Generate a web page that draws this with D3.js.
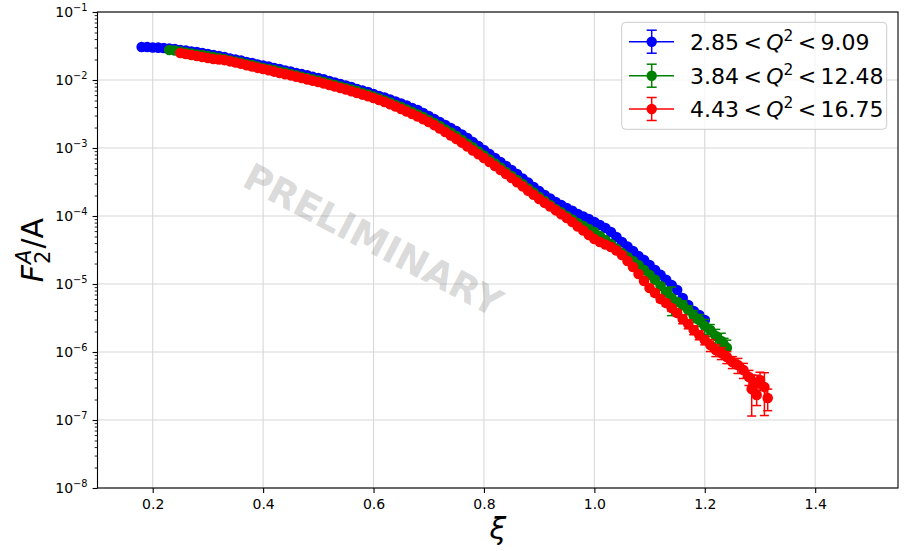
<!DOCTYPE html>
<html>
<head>
<meta charset="utf-8">
<script src="https://cdn.jsdelivr.net/npm/d3@7"></script>
<style>
  body { margin: 0; background: #fff; }
  svg { display: block; font-family: "DejaVu Sans", sans-serif; }
</style>
</head>
<body>
<div id="chart"></div>
<script>
// each point: [xi, F2/A, relative error]
const blueData = [
  [0.18,3.06e-2,.01],[0.19,3.05e-2,.01],[0.20,3.01e-2,.01],[0.21,2.99e-2,.01],[0.22,2.96e-2,.01],
  [0.23,2.91e-2,.01],[0.24,2.86e-2,.01],[0.25,2.76e-2,.01],[0.26,2.72e-2,.01],[0.27,2.62e-2,.01],
  [0.28,2.58e-2,.01],[0.29,2.50e-2,.01],[0.30,2.41e-2,.01],[0.31,2.33e-2,.01],[0.32,2.25e-2,.01],
  [0.33,2.18e-2,.01],[0.34,2.07e-2,.01],[0.35,2.00e-2,.01],[0.36,1.94e-2,.01],[0.37,1.84e-2,.01],
  [0.38,1.78e-2,.01],[0.39,1.69e-2,.01],[0.40,1.63e-2,.01],[0.41,1.58e-2,.01],[0.42,1.50e-2,.01],
  [0.43,1.45e-2,.01],[0.44,1.38e-2,.01],[0.45,1.33e-2,.01],[0.46,1.27e-2,.01],[0.47,1.22e-2,.01],
  [0.48,1.17e-2,.01],[0.49,1.11e-2,.01],[0.50,1.07e-2,.01],[0.51,1.02e-2,.01],[0.52,9.67e-3,.01],
  [0.53,9.19e-3,.01],[0.54,8.73e-3,.01],[0.55,8.30e-3,.01],[0.56,7.89e-3,.01],[0.57,7.37e-3,.01],
  [0.58,7.01e-3,.01],[0.59,6.66e-3,.01],[0.60,6.23e-3,.01],[0.61,5.82e-3,.01],[0.62,5.53e-3,.01],
  [0.63,5.17e-3,.01],[0.64,4.83e-3,.01],[0.65,4.51e-3,.01],[0.66,4.22e-3,.01],[0.67,3.88e-3,.01],
  [0.68,3.62e-3,.01],[0.69,3.27e-3,.01],[0.70,2.96e-3,.01],[0.71,2.67e-3,.01],[0.72,2.41e-3,.01],
  [0.73,2.18e-3,.01],[0.74,1.97e-3,.01],[0.75,1.78e-3,.01],[0.76,1.58e-3,.01],[0.77,1.40e-3,.01],
  [0.78,1.22e-3,.01],[0.79,1.07e-3,.01],[0.80,9.35e-4,.01],[0.81,8.16e-4,.01],[0.82,7.13e-4,.01],
  [0.83,6.23e-4,.01],[0.84,5.44e-4,.01],[0.85,4.75e-4,.01],[0.86,4.15e-4,.01],[0.87,3.56e-4,.01],
  [0.88,3.11e-4,.01],[0.89,2.67e-4,.01],[0.90,2.33e-4,.01],[0.91,2.04e-4,.01],[0.92,1.81e-4,.01],
  [0.93,1.61e-4,.01],[0.94,1.45e-4,.01],[0.95,1.31e-4,.01],[0.96,1.19e-4,.01],[0.97,1.07e-4,.01],
  [0.98,9.83e-5,.02],[0.99,9.03e-5,.02],[1.00,8.16e-5,.02],[1.01,7.37e-5,.02],[1.02,6.66e-5,.02],
  [1.03,5.82e-5,.02],[1.04,4.91e-5,.02],[1.05,4.15e-5,.02],[1.06,3.56e-5,.02],[1.07,3.06e-5,.03],
  [1.08,2.58e-5,.03],[1.09,2.25e-5,.03],[1.10,1.90e-5,.03],[1.11,1.61e-5,.04],[1.12,1.36e-5,.04],
  [1.13,1.15e-5,.04],[1.14,9.67e-6,.05],[1.15,8.16e-6,.05],[1.16,6.23e-6,.06],[1.17,4.91e-6,.06],
  [1.18,4.01e-6,.07],[1.19,3.50e-6,.08],[1.20,2.96e-6,.08]
];

const greenData = [
  [0.23,2.76e-2,.01],[0.24,2.72e-2,.01],[0.25,2.62e-2,.01],[0.26,2.54e-2,.01],[0.27,2.45e-2,.01],
  [0.28,2.37e-2,.01],[0.29,2.33e-2,.01],[0.30,2.25e-2,.01],[0.31,2.18e-2,.01],[0.32,2.11e-2,.01],
  [0.33,2.04e-2,.01],[0.34,1.94e-2,.01],[0.35,1.87e-2,.01],[0.36,1.81e-2,.01],[0.37,1.72e-2,.01],
  [0.38,1.66e-2,.01],[0.39,1.58e-2,.01],[0.40,1.50e-2,.01],[0.41,1.45e-2,.01],[0.42,1.40e-2,.01],
  [0.43,1.33e-2,.01],[0.44,1.29e-2,.01],[0.45,1.22e-2,.01],[0.46,1.17e-2,.01],[0.47,1.11e-2,.01],
  [0.48,1.07e-2,.01],[0.49,1.02e-2,.01],[0.50,9.83e-3,.01],[0.51,9.35e-3,.01],[0.52,8.88e-3,.01],
  [0.53,8.44e-3,.01],[0.54,8.02e-3,.01],[0.55,7.63e-3,.01],[0.56,7.25e-3,.01],[0.57,6.89e-3,.01],
  [0.58,6.44e-3,.01],[0.59,6.12e-3,.01],[0.60,5.72e-3,.01],[0.61,5.35e-3,.01],[0.62,5.00e-3,.01],
  [0.63,4.67e-3,.01],[0.64,4.29e-3,.01],[0.65,4.01e-3,.01],[0.66,3.68e-3,.01],[0.67,3.38e-3,.01],
  [0.68,3.11e-3,.01],[0.69,2.86e-3,.01],[0.70,2.58e-3,.01],[0.71,2.33e-3,.01],[0.72,2.11e-3,.01],
  [0.73,1.87e-3,.01],[0.74,1.69e-3,.01],[0.75,1.50e-3,.01],[0.76,1.31e-3,.01],[0.77,1.15e-3,.01],
  [0.78,1.02e-3,.01],[0.79,8.88e-4,.01],[0.80,7.76e-4,.01],[0.81,6.77e-4,.01],[0.82,5.92e-4,.01],
  [0.83,5.17e-4,.01],[0.84,4.44e-4,.01],[0.85,3.88e-4,.01],[0.86,3.38e-4,.01],[0.87,2.96e-4,.01],
  [0.88,2.54e-4,.01],[0.89,2.22e-4,.01],[0.90,1.90e-4,.01],[0.91,1.66e-4,.01],[0.92,1.45e-4,.01],
  [0.93,1.27e-4,.01],[0.94,1.13e-4,.01],[0.95,1.00e-4,.01],[0.96,8.88e-5,.02],[0.97,7.89e-5,.02],
  [0.98,7.13e-5,.02],[0.99,6.44e-5,.02],[1.00,5.82e-5,.02],[1.01,5.08e-5,.02],[1.02,4.44e-5,.02],
  [1.03,3.88e-5,.02],[1.04,3.33e-5,.02],[1.05,2.86e-5,.02],[1.06,2.50e-5,.04],[1.07,2.18e-5,.04],
  [1.08,1.90e-5,.04],[1.09,1.61e-5,.04],[1.10,1.36e-5,.04],[1.11,1.15e-5,.08],[1.12,9.35e-6,.10],
  [1.13,7.63e-6,.15],[1.14,6.23e-6,.45],[1.15,5.44e-6,.12],[1.16,4.91e-6,.15],[1.17,4.15e-6,.15],
  [1.18,3.38e-6,.20],[1.19,2.96e-6,.20],[1.20,2.41e-6,.25],[1.21,2.11e-6,.20],[1.22,1.72e-6,.25],
  [1.23,1.45e-6,.30],[1.235,1.27e-6,.25],[1.24,1.15e-6,.30]
];

const redData = [
  [0.25,2.50e-2,.01],[0.26,2.41e-2,.01],[0.27,2.33e-2,.01],[0.28,2.25e-2,.01],[0.29,2.18e-2,.01],
  [0.30,2.11e-2,.01],[0.31,2.04e-2,.01],[0.32,2.00e-2,.01],[0.33,1.96e-2,.01],[0.34,1.88e-2,.01],
  [0.35,1.81e-2,.01],[0.36,1.73e-2,.01],[0.37,1.65e-2,.01],[0.38,1.58e-2,.01],[0.39,1.51e-2,.01],
  [0.40,1.45e-2,.01],[0.41,1.39e-2,.01],[0.42,1.33e-2,.01],[0.43,1.27e-2,.01],[0.44,1.22e-2,.01],
  [0.45,1.17e-2,.01],[0.46,1.12e-2,.01],[0.47,1.07e-2,.01],[0.48,1.02e-2,.01],[0.49,9.76e-3,.01],
  [0.50,9.35e-3,.01],[0.51,8.88e-3,.01],[0.52,8.44e-3,.01],[0.53,8.02e-3,.01],[0.54,7.63e-3,.01],
  [0.55,7.25e-3,.01],[0.56,6.84e-3,.01],[0.57,6.46e-3,.01],[0.58,6.10e-3,.01],[0.59,5.77e-3,.01],
  [0.60,5.44e-3,.01],[0.61,5.08e-3,.01],[0.62,4.75e-3,.01],[0.63,4.41e-3,.01],[0.64,4.08e-3,.01],
  [0.65,3.75e-3,.01],[0.66,3.44e-3,.01],[0.67,3.16e-3,.01],[0.68,2.91e-3,.01],[0.69,2.65e-3,.01],
  [0.70,2.41e-3,.01],[0.71,2.17e-3,.01],[0.72,1.94e-3,.01],[0.73,1.72e-3,.01],[0.74,1.53e-3,.01],
  [0.75,1.36e-3,.01],[0.76,1.20e-3,.01],[0.77,1.05e-3,.01],[0.78,9.22e-4,.01],[0.79,8.10e-4,.01],
  [0.80,7.13e-4,.01],[0.81,6.23e-4,.01],[0.82,5.44e-4,.01],[0.83,4.75e-4,.01],[0.84,4.15e-4,.01],
  [0.85,3.62e-4,.01],[0.86,3.14e-4,.01],[0.87,2.73e-4,.01],[0.88,2.36e-4,.01],[0.89,2.05e-4,.01],
  [0.90,1.78e-4,.01],[0.91,1.56e-4,.01],[0.92,1.38e-4,.01],[0.93,1.21e-4,.01],[0.94,1.06e-4,.01],
  [0.95,9.35e-5,.01],[0.96,8.16e-5,.02],[0.97,7.01e-5,.02],[0.98,6.12e-5,.02],[0.99,5.26e-5,.02],
  [1.00,4.59e-5,.02],[1.01,4.15e-5,.02],[1.02,3.81e-5,.02],[1.03,3.50e-5,.02],[1.04,3.11e-5,.02],
  [1.05,2.67e-5,.02],[1.06,2.18e-5,.05],[1.07,1.78e-5,.05],[1.08,1.40e-5,.05],[1.09,1.11e-5,.05],
  [1.10,8.73e-6,.05],[1.11,7.37e-6,.10],[1.12,6.02e-6,.10],[1.13,5.26e-6,.10],[1.14,4.44e-6,.10],
  [1.15,3.75e-6,.10],[1.16,3.06e-6,.15],[1.17,2.58e-6,.15],[1.18,2.11e-6,.15],[1.19,1.78e-6,.15],
  [1.20,1.50e-6,.15],[1.21,1.27e-6,.20],[1.22,1.07e-6,.20],[1.23,9.67e-7,.20],[1.24,8.44e-7,.20],
  [1.25,7.13e-7,.20],[1.26,6.44e-7,.25],[1.27,5.44e-7,.25],[1.28,4.29e-7,.25],[1.285,2.86e-7,.60],
  [1.29,3.50e-7,.30],[1.294,2.33e-7,.30],[1.30,3.88e-7,.30],[1.308,3.06e-7,.62],[1.314,2.11e-7,.35]
];

const seriesColors = ["#0000ff", "#008000", "#ff0000"];
const q2Low = ["2.85", "3.84", "4.43"];
const q2High = ["9.09", "12.48", "16.75"];

const xTicks = [0.2, 0.4, 0.6, 0.8, 1.0, 1.2, 1.4];
const xTickLabels = ["0.2", "0.4", "0.6", "0.8", "1.0", "1.2", "1.4"];
const yTicks = [1e-8, 1e-7, 1e-6, 1e-5, 1e-4, 1e-3, 1e-2, 1e-1];
const yTickExps = ["\u22128", "\u22127", "\u22126", "\u22125", "\u22124", "\u22123", "\u22122", "\u22121"];

const W = 904, H = 551;
const margin = {top: 12, right: 6, bottom: 63, left: 97.5};
const plotBottom = H - margin.bottom;
const plotRight = W - margin.right;

const x = d3.scaleLinear().domain([0.1, 1.55]).range([margin.left, plotRight]);
const y = d3.scaleLog().domain([1e-8, 1e-1]).range([plotBottom, margin.top]);

const svg = d3.select("#chart").append("svg")
    .attr("width", W)
    .attr("height", H);

// grid
const grid = svg.append("g").attr("class", "grid")
    .attr("stroke", "#d8d8d8")
    .attr("stroke-width", 1.1);

grid.selectAll(".gx").data(xTicks).join("line")
    .attr("x1", d => x(d)).attr("x2", d => x(d))
    .attr("y1", margin.top).attr("y2", plotBottom);

grid.selectAll(".gy").data(yTicks).join("line")
    .attr("x1", margin.left).attr("x2", plotRight)
    .attr("y1", d => y(d)).attr("y2", d => y(d));

// watermark
svg.append("text")
    .attr("transform", "translate(373,240) rotate(27.5)")
    .attr("text-anchor", "middle")
    .attr("dominant-baseline", "central")
    .attr("font-size", 37.5)
    .attr("font-weight", "bold")
    .attr("fill", "#808080")
    .attr("fill-opacity", 0.3)
    .text("PRELIMINARY");

// series
const plot = svg.append("g").attr("class", "series");

function drawSeries(data, color) {
    const g = plot.append("g");
    const cap = 4.5;

    g.selectAll(".bar").data(data).join("line")
        .attr("x1", d => x(d[0])).attr("x2", d => x(d[0]))
        .attr("y1", d => y(d[1] * (1 + d[2])))
        .attr("y2", d => y(d[1] * (1 - d[2])))
        .attr("stroke", color).attr("stroke-width", 1.5);

    g.selectAll(".capTop").data(data).join("line")
        .attr("x1", d => x(d[0]) - cap).attr("x2", d => x(d[0]) + cap)
        .attr("y1", d => y(d[1] * (1 + d[2]))).attr("y2", d => y(d[1] * (1 + d[2])))
        .attr("stroke", color).attr("stroke-width", 1.5);

    g.selectAll(".capBot").data(data).join("line")
        .attr("x1", d => x(d[0]) - cap).attr("x2", d => x(d[0]) + cap)
        .attr("y1", d => y(d[1] * (1 - d[2]))).attr("y2", d => y(d[1] * (1 - d[2])))
        .attr("stroke", color).attr("stroke-width", 1.5);

    g.append("path")
        .datum(data)
        .attr("fill", "none")
        .attr("stroke", color)
        .attr("stroke-width", 1.5)
        .attr("d", d3.line().x(d => x(d[0])).y(d => y(d[1])));

    g.selectAll("circle").data(data).join("circle")
        .attr("cx", d => x(d[0]))
        .attr("cy", d => y(d[1]))
        .attr("r", 5.3)
        .attr("fill", color);
}

[blueData, greenData, redData].forEach((data, i) => drawSeries(data, seriesColors[i]));

// spines
svg.append("rect")
    .attr("x", margin.left).attr("y", margin.top)
    .attr("width", plotRight - margin.left)
    .attr("height", plotBottom - margin.top)
    .attr("fill", "none")
    .attr("stroke", "#000")
    .attr("stroke-width", 1.1);

// x axis
const xAxis = svg.append("g")
    .attr("transform", `translate(0,${plotBottom})`)
    .call(d3.axisBottom(x).tickValues(xTicks).tickSize(4.9).tickPadding(6)
        .tickFormat((d, i) => xTickLabels[i]));
xAxis.select(".domain").remove();
xAxis.selectAll(".tick line").attr("stroke", "#000").attr("stroke-width", 1.1);
xAxis.selectAll(".tick text")
    .attr("font-family", "DejaVu Sans")
    .attr("font-size", 14)
    .attr("fill", "#000");

// y axis: minor ticks
const minorTicks = [];
for (let e = -8; e < -1; e++) {
    for (let m = 2; m <= 9; m++) minorTicks.push(m * Math.pow(10, e));
}
const yMinor = svg.append("g")
    .attr("transform", `translate(${margin.left},0)`)
    .call(d3.axisLeft(y).tickValues(minorTicks).tickSize(2.8).tickFormat(""));
yMinor.select(".domain").remove();
yMinor.selectAll(".tick line").attr("stroke", "#000").attr("stroke-width", 0.85);

const yAxis = svg.append("g")
    .attr("transform", `translate(${margin.left},0)`)
    .call(d3.axisLeft(y).tickValues(yTicks).tickSize(4.9).tickFormat(""));
yAxis.select(".domain").remove();
yAxis.selectAll(".tick line").attr("stroke", "#000").attr("stroke-width", 1.1);

const yLabels = svg.append("g").attr("class", "ylabels");
yTicks.forEach((t, i) => {
    const txt = yLabels.append("text")
        .attr("x", margin.left - 10)
        .attr("y", y(t) + 5)
        .attr("text-anchor", "end")
        .attr("font-size", 14)
        .attr("fill", "#000");
    txt.append("tspan").text("10");
    txt.append("tspan").attr("font-size", 9.8).attr("dy", -6.5).text(yTickExps[i]);
});

// axis labels
svg.append("text")
    .attr("x", (margin.left + plotRight) / 2)
    .attr("y", 539)
    .attr("text-anchor", "middle")
    .attr("font-size", 30)
    .attr("font-style", "italic")
    .text("\u03be");

const yl = svg.append("g").attr("transform", `translate(43,${(margin.top + plotBottom) / 2}) rotate(-90)`);
const fPart = yl.append("text").attr("font-size", 30).attr("font-style", "italic").text("F");
const fw = fPart.node().getComputedTextLength();
const supA = yl.append("text").attr("x", fw + 1).attr("y", -12).attr("font-size", 21)
    .attr("font-style", "italic").text("A");
yl.append("text").attr("x", fw + 1).attr("y", 7).attr("font-size", 21).text("2");
const sw = supA.node().getComputedTextLength();
const rest = yl.append("text").attr("x", fw + sw + 2).attr("font-size", 30).text("/A");
const total = fw + sw + 2 + rest.node().getComputedTextLength();
yl.selectAll("text").attr("transform", `translate(${-total / 2},0)`);

// legend
const legend = svg.append("g").attr("class", "legend");
legend.append("rect")
    .attr("x", 621.7).attr("y", 22.3)
    .attr("width", 265).attr("height", 107)
    .attr("rx", 4)
    .attr("fill", "#fff").attr("fill-opacity", 0.8)
    .attr("stroke", "#cccccc").attr("stroke-width", 1);

const rowY = [41.7, 75.7, 109];
seriesColors.forEach((c, i) => {
    const row = legend.append("g").attr("transform", `translate(0,${rowY[i]})`);
    const cx = 651.7;
    row.append("line").attr("x1", 629).attr("x2", 674).attr("y1", 0).attr("y2", 0)
        .attr("stroke", c).attr("stroke-width", 1.5);
    row.append("line").attr("x1", cx).attr("x2", cx).attr("y1", -11.5).attr("y2", 11.5)
        .attr("stroke", c).attr("stroke-width", 1.5);
    row.append("line").attr("x1", cx - 5).attr("x2", cx + 5).attr("y1", -11.5).attr("y2", -11.5)
        .attr("stroke", c).attr("stroke-width", 1.5);
    row.append("line").attr("x1", cx - 5).attr("x2", cx + 5).attr("y1", 11.5).attr("y2", 11.5)
        .attr("stroke", c).attr("stroke-width", 1.5);
    row.append("circle").attr("cx", cx).attr("cy", 0).attr("r", 5.2).attr("fill", c);

    const t = row.append("text").attr("x", 690).attr("y", 8).attr("font-size", 22).attr("fill", "#000");
    t.append("tspan").text(q2Low[i] + "\u2009<\u2009");
    t.append("tspan").attr("font-style", "italic").text("Q");
    t.append("tspan").attr("font-size", 15.4).attr("dy", -9).text("2");
    t.append("tspan").attr("dy", 9).text("\u2009<\u2009" + q2High[i]);
});
</script>
</body>
</html>
